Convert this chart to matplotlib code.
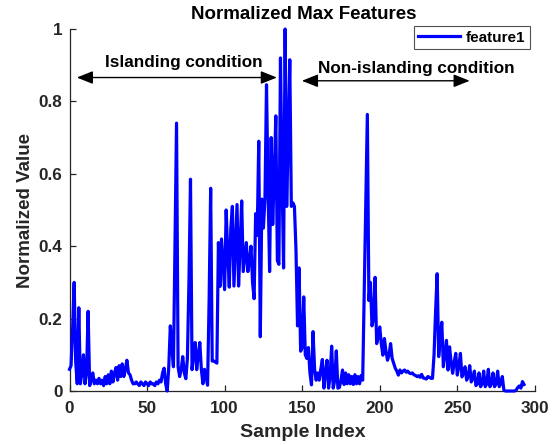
import numpy as np
import matplotlib
matplotlib.use("Agg")
import matplotlib.pyplot as plt

plt.rcParams['font.family'] = ['Liberation Sans', 'DejaVu Sans']
plt.rcParams['font.weight'] = 'bold'

# ---- data ----
feature1 = [
    0.06, 0.07, 0.17, 0.30, 0.08, 0.02, 0.23, 0.02, 0.05, 0.10,
    0.02, 0.05, 0.22, 0.015, 0.03, 0.05, 0.02, 0.03, 0.02, 0.035,
    0.02, 0.03, 0.015, 0.04, 0.02, 0.045, 0.02, 0.055, 0.025, 0.05,
    0.065, 0.03, 0.07, 0.04, 0.075, 0.04, 0.06, 0.085, 0.05, 0.045,
    0.03, 0.02, 0.02, 0.025, 0.02, 0.015, 0.025, 0.02, 0.015, 0.025,
    0.02, 0.015, 0.025, 0.02, 0.02, 0.015, 0.025, 0.02, 0.03, 0.025,
    0.05, 0.063, 0.02, 0.0, 0.067, 0.18, 0.12, 0.067, 0.40, 0.74,
    0.067, 0.04, 0.06, 0.095, 0.05, 0.034, 0.09, 0.30, 0.585, 0.059,
    0.10, 0.134, 0.059, 0.10, 0.134, 0.06, 0.02, 0.06, 0.04, 0.016,
    0.25, 0.56, 0.083, 0.083, 0.08, 0.077, 0.41, 0.289, 0.42, 0.35,
    0.28, 0.50, 0.38, 0.287, 0.45, 0.51, 0.29, 0.40, 0.515, 0.29,
    0.40, 0.525, 0.33, 0.37, 0.41, 0.33, 0.36, 0.40, 0.30, 0.255,
    0.49, 0.43, 0.69, 0.15, 0.53, 0.45, 0.53, 0.846, 0.557, 0.33,
    0.70, 0.46, 0.60, 0.76, 0.36, 0.35, 0.92, 0.60, 0.34, 1.0,
    0.51, 0.70, 0.915, 0.51, 0.52, 0.51, 0.39, 0.18, 0.34, 0.11,
    0.12, 0.26, 0.10, 0.09, 0.12, 0.05, 0.017, 0.164, 0.06, 0.03,
    0.05, 0.03, 0.06, 0.087, 0.008, 0.05, 0.085, 0.008, 0.04, 0.124,
    0.008, 0.03, 0.111, 0.008, 0.01, 0.03, 0.058, 0.018, 0.05, 0.02,
    0.045, 0.02, 0.04, 0.018, 0.045, 0.02, 0.04, 0.02, 0.043, 0.03,
    0.28, 0.52, 0.764, 0.25, 0.30, 0.18, 0.20, 0.314, 0.131, 0.15,
    0.177, 0.13, 0.099, 0.145, 0.11, 0.085, 0.10, 0.131, 0.09, 0.076,
    0.063, 0.055, 0.044, 0.058, 0.05, 0.055, 0.058, 0.052, 0.055, 0.05,
    0.048, 0.05, 0.045, 0.043, 0.04, 0.042, 0.038, 0.046, 0.036, 0.035,
    0.033, 0.04, 0.038, 0.035, 0.035, 0.10, 0.22, 0.324, 0.095, 0.15,
    0.19, 0.067, 0.10, 0.14, 0.058, 0.122, 0.08, 0.049, 0.08, 0.104,
    0.044, 0.07, 0.104, 0.039, 0.05, 0.067, 0.03, 0.04, 0.07, 0.025,
    0.035, 0.055, 0.015, 0.02, 0.05, 0.012, 0.02, 0.055, 0.012, 0.02,
    0.06, 0.012, 0.02, 0.05, 0.012, 0.02, 0.055, 0.012, 0.02, 0.04,
    0.003, 0.0, 0.0, 0.0, 0.0, 0.0, 0.0, 0.0, 0.003, 0.01,
    0.014, 0.008, 0.026, 0.018,
]
sample_index = np.arange(len(feature1))

x_ticks = [0, 50, 100, 150, 200, 250, 300]
y_ticks = [0, 0.2, 0.4, 0.6, 0.8, 1.0]
y_tick_labels = ['0', '0.2', '0.4', '0.6', '0.8', '1']

title = 'Normalized Max Features'
x_label = 'Sample Index'
y_label = 'Normalized Value'
legend_label = 'feature1'
island_text = 'Islanding condition'
non_island_text = 'Non-islanding condition'

# ---- figure ----
TXT = '#262626'
fig = plt.figure(figsize=(5.56, 4.45), dpi=100)
ax = fig.add_axes([0.125, 0.1213, 0.837, 0.8135])

line, = ax.plot(sample_index, feature1, color=(0, 0, 1), lw=2.3,
                solid_joinstyle='round', label=legend_label, clip_on=False,
                zorder=3)

ax.set_xlim(0, 300)
ax.set_ylim(0, 1)
ax.set_xticks(x_ticks)
ax.set_xticklabels([str(t) for t in x_ticks])
ax.set_yticks(y_ticks)
ax.set_yticklabels(y_tick_labels)
for s in ['top', 'right']:
    ax.spines[s].set_visible(False)
for s in ['left', 'bottom']:
    ax.spines[s].set_color(TXT)
    ax.spines[s].set_linewidth(0.9)
ax.tick_params(direction='in', length=4, width=0.9, color=TXT,
               labelsize=12.3, labelcolor=TXT)
ax.tick_params(axis='x', pad=7)
ax.tick_params(axis='y', pad=5)
for lab in ax.get_xticklabels() + ax.get_yticklabels():
    lab.set_fontweight('bold')

fig.text(0.546, 0.9685, title, ha='center', va='center', fontsize=13.5,
         fontweight='bold', color='black')
fig.text(0.545, 0.027, x_label, ha='center', va='center', fontsize=14,
         fontweight='bold', color=TXT)
fig.text(0.045, 0.528, y_label, ha='center', va='center', rotation=90,
         fontsize=13.5, fontweight='bold', color=TXT)

# annotations with double arrows
arrow_kw = dict(arrowstyle='<|-|>,head_length=0.7,head_width=0.28',
                color='black', lw=1.0, mutation_scale=14, shrinkA=0, shrinkB=0)
ax.annotate('', xy=(4.7, 0.866), xytext=(133.7, 0.866), arrowprops=arrow_kw)
ax.text(73.8, 0.907, island_text, ha='center', va='center', fontsize=12.3,
        fontweight='bold', color='black')
ax.annotate('', xy=(149.8, 0.857), xytext=(258, 0.857), arrowprops=arrow_kw)
ax.text(223.4, 0.89, non_island_text, ha='center', va='center', fontsize=12.3,
        fontweight='bold', color='black')

leg = fig.legend(handles=[line], loc='upper right',
                 bbox_to_anchor=(0.953, 0.9416), bbox_transform=fig.transFigure,
                 borderaxespad=0, fontsize=11, frameon=True, fancybox=False,
                 handlelength=2.7, handletextpad=0.4, borderpad=0.3)
leg.get_frame().set_edgecolor(TXT)
leg.get_frame().set_linewidth(0.8)
for t in leg.get_texts():
    t.set_fontweight('bold')

fig.savefig('out.png', dpi=100)
